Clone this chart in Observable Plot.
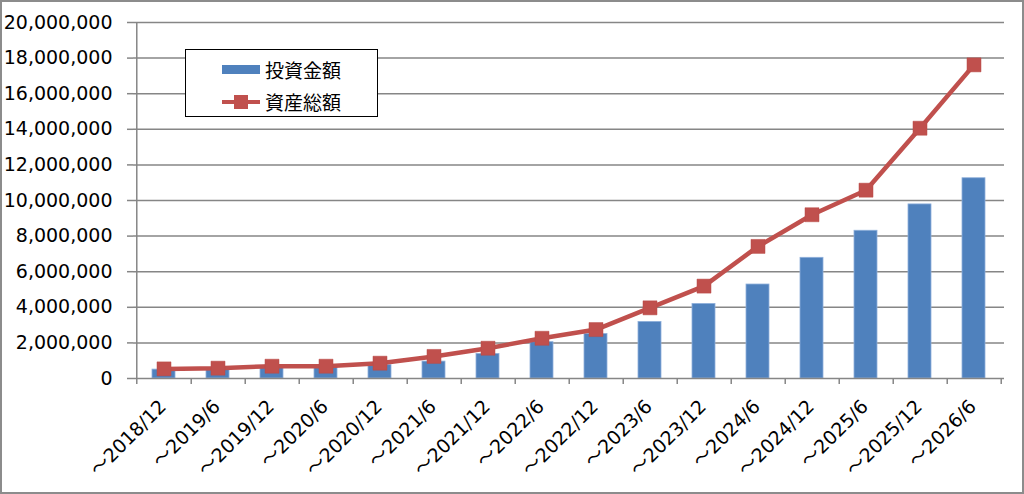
<!DOCTYPE html>
<html>
<head>
<meta charset="utf-8">
<script src="https://cdn.jsdelivr.net/npm/d3@7"></script>
<script src="https://cdn.jsdelivr.net/npm/@observablehq/plot@0.6"></script>
<style>
  html, body { margin: 0; padding: 0; background: #fff; }
  #frame { position: relative; width: 1024px; height: 494px; box-sizing: border-box; border: 2px solid #8c8c8c; background: #fff; overflow: hidden; }
  #chart svg { display: block; }
  #legend { position: absolute; left: 183px; top: 47px; width: 193px; height: 68px; box-sizing: border-box; border: 1.5px solid #000; background: #fff; font-family: "Noto Sans CJK JP", sans-serif; font-size: 19px; color: #000; }
  .item { position: absolute; left: 36px; display: flex; align-items: center; }
  .sw { width: 38px; height: 20px; position: relative; margin-right: 5px; }
  .bar { position: absolute; left: 0; top: 5px; width: 38px; height: 9px; background: #4F81BD; }
  .ln { position: absolute; left: 0; top: 8px; width: 38px; height: 4px; background: #C0504D; }
  .mk { position: absolute; left: 12px; top: 3px; width: 14px; height: 14px; background: #C0504D; }
</style>
</head>
<body>
<div id="frame">
  <div id="chart"></div>
  <div id="legend">
    <div class="item" style="top:6px"><div class="sw"><div class="bar"></div></div><span>投資金額</span></div>
    <div class="item" style="top:38px"><div class="sw"><div class="ln"></div><div class="mk"></div></div><span>資産総額</span></div>
  </div>
</div>
<script>
const periods = ["～2018/12","～2019/6","～2019/12","～2020/6","～2020/12","～2021/6","～2021/12","～2022/6","～2022/12","～2023/6","～2023/12","～2024/6","～2024/12","～2025/6","～2025/12","～2026/6"];
const invested = [500000,580000,680000,700000,750000,950000,1380000,2040000,2500000,3180000,4190000,5280000,6780000,8300000,9780000,11250000];
const totalAssets = [540000,580000,690000,690000,860000,1240000,1700000,2260000,2750000,3970000,5190000,7420000,9200000,10580000,14060000,17620000];
const yTicks = [0,2000000,4000000,6000000,8000000,10000000,12000000,14000000,16000000,18000000,20000000];

const rows = periods.map((p, i) => ({period: p, invested: invested[i], total: totalAssets[i]}));

const W = 1020, H = 490, ML = 131, MR = 18, MT = 20, MB = 114;
const step = (W - ML - MR) / periods.length;
const font = "DejaVu Sans, Verdana, 'Noto Sans CJK JP', sans-serif";
const gray = "#868686";

const chart = Plot.plot({
  width: W, height: H,
  marginLeft: ML, marginRight: MR, marginTop: MT, marginBottom: MB,
  style: {fontFamily: font, fontSize: "19px", color: "#000", background: "#fff"},
  x: {domain: periods, paddingInner: 0.58, paddingOuter: 0.29, label: null},
  y: {domain: [0, 20000000], label: null},
  marks: [
    Plot.gridY(yTicks.filter(d => d > 0), {stroke: gray, strokeOpacity: 1, strokeWidth: 1.5}),
    Plot.barY(rows, {x: "period", y: "invested", fill: "#4F81BD", stroke: "#8fb0db", strokeWidth: 0.8}),
    Plot.line(rows, {x: "period", y: "total", stroke: "#C0504D", strokeWidth: 4.5}),
    Plot.dot(rows, {x: "period", y: "total", symbol: "square", r: 7.9, fill: "#C0504D", stroke: "#b84a47", strokeWidth: 0.5}),
    Plot.ruleY([0], {stroke: gray, strokeWidth: 1.5}),
    Plot.ruleX([periods[0]], {dx: -step / 2, y1: 0, y2: 20000000, stroke: gray, strokeWidth: 1.5}),
    Plot.tickX(periods, {x: d => d, dx: step / 2, frameAnchor: "bottom", stroke: gray, strokeWidth: 1.5}),
    Plot.ruleX([periods[0]], {dx: -step / 2, y: 0, stroke: gray, strokeWidth: 1.5}),
    Plot.axisY({ticks: yTicks, tickFormat: d3.format(","), tickSize: 6, tickPadding: 15, stroke: gray, strokeWidth: 1.5, fontSize: 19}),
    Plot.axisX({tickSize: 0, tickRotate: -45, tickPadding: 25, dx: -1, fontSize: 19})
  ]
});
document.getElementById("chart").appendChild(chart);

// boundary ticks below the axis
chart.querySelectorAll("[aria-label='tick'] line").forEach(l => {
  l.setAttribute("y1", H - MB);
  l.setAttribute("y2", H - MB + 6);
});
chart.querySelectorAll("[aria-label='rule'] line").forEach(l => {
  if (l.getAttribute("y1") === l.getAttribute("y2")) return;
  const y2 = +l.getAttribute("y2"), y1 = +l.getAttribute("y1");
  const lo = Math.max(y1, y2);
  if (lo >= H - MB - 1) {
    if (y1 > y2) l.setAttribute("y1", H - MB + 6); else l.setAttribute("y2", H - MB + 6);
  }
});
</script>
</body>
</html>
